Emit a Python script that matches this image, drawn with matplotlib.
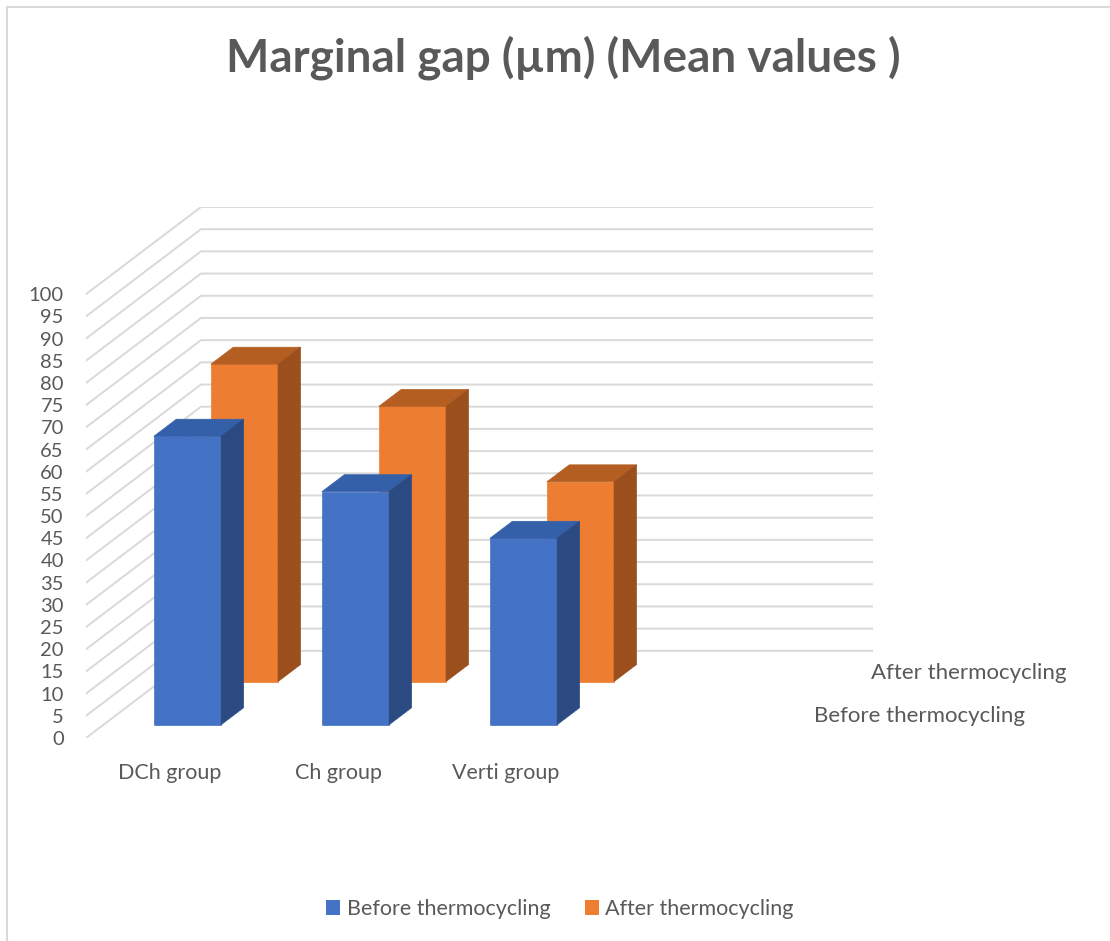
import matplotlib
matplotlib.use("Agg")
import matplotlib.pyplot as plt
from matplotlib.patches import Polygon, Patch
from matplotlib.lines import Line2D

plt.rcParams['font.family'] = ['Lato', 'DejaVu Sans']

# data
groups = ['DCh group', 'Ch group', 'Verti group']
series = ['Before thermocycling', 'After thermocycling']
before = [65, 52.5, 42]
after = [71.5, 62, 45]
yticks = list(range(0, 101, 5))

# colours (front, top, side)
blue = ('#4472C4', '#3460AA', '#2B4A82')
orange = ('#ED7D31', '#B55E22', '#9B4F1D')
grid_c = '#D9D9D9'
text_c = '#595959'

# oblique depth: full depth shifts in category units / value units
DX = 0.6845
DY = 19.64
n_slots = 4        # excel kept an empty 4th category slot
bar_w = 0.40
bar_d = 0.195      # bar depth as fraction of full depth


def proj(x, v, d):
    return (x + d * DX, v + d * DY)


fig = plt.figure(figsize=(11.1, 9.41), dpi=100)
ax = fig.add_axes([86 / 1110, 1 - 738 / 941, (873 - 86) / 1110, (738 - 207) / 941])
ax.set_xlim(0, n_slots + DX)
ax.set_ylim(0, 100 + DY)
for s in ax.spines.values():
    s.set_visible(False)

# walls grid
for v in yticks:
    p0 = proj(0, v, 0)
    p1 = proj(0, v, 1)
    p2 = proj(n_slots, v, 1)
    ax.plot([p0[0], p1[0], p2[0]], [p0[1], p1[1], p2[1]], color=grid_c, lw=1.4,
            zorder=1, solid_joinstyle='miter')


def bar3d(xc, val, dc, cols, z):
    x0, x1 = xc - bar_w / 2, xc + bar_w / 2
    d0, d1 = dc - bar_d / 2, dc + bar_d / 2
    front = [proj(x0, 0, d0), proj(x1, 0, d0), proj(x1, val, d0), proj(x0, val, d0)]
    top = [proj(x0, val, d0), proj(x1, val, d0), proj(x1, val, d1), proj(x0, val, d1)]
    side = [proj(x1, 0, d0), proj(x1, 0, d1), proj(x1, val, d1), proj(x1, val, d0)]
    for pts, c in ((front, cols[0]), (top, cols[1]), (side, cols[2])):
        ax.add_patch(Polygon(pts, closed=True, facecolor=c, edgecolor=c, lw=0.5, zorder=z))


row_depth = [0.25, 0.745]
for i, v in enumerate(after):
    bar3d(i + 0.5, v, row_depth[1], orange, 2 + i * 0.1)
for i, v in enumerate(before):
    bar3d(i + 0.5, v, row_depth[0], blue, 3 + i * 0.1)

ax.set_yticks(yticks)
ax.set_yticklabels([str(t) for t in yticks])
ax.set_xticks([i + 0.5 for i in range(len(groups))])
ax.set_xticklabels(groups)
ax.tick_params(axis='y', length=0, pad=16, labelsize=14.5, labelcolor=text_c)
ax.tick_params(axis='x', length=0, pad=18, labelsize=15.5, labelcolor=text_c)

# depth axis labels
for j, name in enumerate(series):
    px, py = proj(n_slots, 0, row_depth[j])
    ax.annotate(name, (px, py), xytext=(27, 0), textcoords='offset pixels',
                ha='left', va='center', fontsize=16, color=text_c, annotation_clip=False)

fig.text(563 / 1110, 1 - 58 / 941, 'Marginal gap (\u00b5m) (Mean values )', ha='center',
         va='center', fontsize=33, fontweight='bold', color=text_c)

handles = [Patch(facecolor=blue[0]), Patch(facecolor=orange[0])]
fig.legend(handles, series, loc='center', bbox_to_anchor=(560 / 1110, 1 - 909 / 941),
           ncol=2, frameon=False, fontsize=15.5, labelcolor=text_c,
           handlelength=0.65, handleheight=0.65, handletextpad=0.3, columnspacing=1.6)

# chart border (left and top visible)
fig.add_artist(Line2D([7 / 1110, 7 / 1110], [0, 1 - 7 / 941], color=grid_c, lw=1.5))
fig.add_artist(Line2D([7 / 1110, 1], [1 - 7 / 941, 1 - 7 / 941], color=grid_c, lw=1.5))

fig.savefig('out.png', dpi=100)
